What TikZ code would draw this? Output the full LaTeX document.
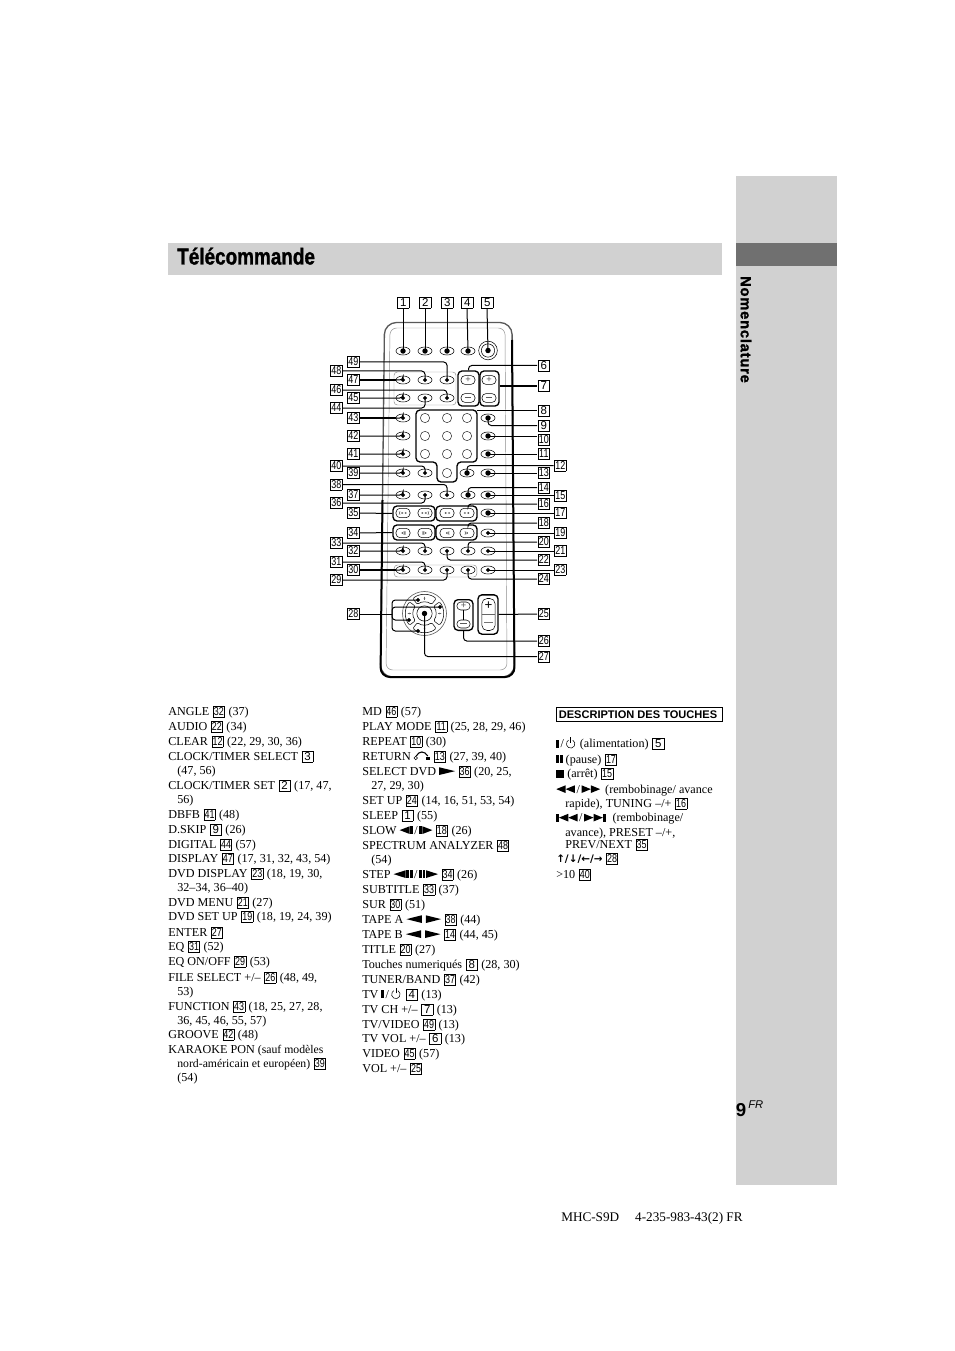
\documentclass[tikz,border=0pt]{standalone}
\usepackage{graphicx}
\usepackage{fontspec}
\setmainfont{Liberation Serif}
\setsansfont{Liberation Sans}
\newfontfamily\symfont{DejaVu Sans}
\newfontfamily\spacedfont[LetterSpace=5.5,BoldFeatures={FakeBold=1.6}]{Liberation Sans}
\newfontfamily\titlefont[BoldFeatures={FakeBold=1.4}]{Liberation Sans}
\usetikzlibrary{arrows.meta,shapes.geometric}

\definecolor{pagegray}{gray}{0.82}
\definecolor{bandgray}{gray}{0.44}

% numbers in a small frame
\newcommand\nb[1]{\hspace{.5pt}\raisebox{-1.4pt}{\fboxsep=0pt\fboxrule=.35pt\framebox[8.8pt]{\rule{0pt}{8pt}\raisebox{1.1pt}{\sffamily\fontsize{8.6}{9}\selectfont\ifnum#1>9 \scalebox{.78}[1]{#1}\else #1\fi}}}\hspace{.5pt}}
\newcommand\ind{\hspace*{6.8pt}}
% small key symbols
\newcommand\triL[1][7]{\tikz[x=1pt,y=1pt,baseline=0pt]\fill (0,2.9) -- (#1,5.8) -- (#1,0) -- cycle ;}
\newcommand\triR[1][7]{\tikz[x=1pt,y=1pt,baseline=0pt]\fill (#1,2.9) -- (0,5.8) -- (0,0) -- cycle ;}
\newcommand\barI{\tikz[x=1pt,y=1pt,baseline=0pt]\fill (0,0) rectangle (2,5.8) ;}
\newcommand\sep{\hspace{1.2pt}/\hspace{1.2pt}}
\newcommand\pwr{\tikz[x=1pt,y=1pt,baseline=0pt]{\draw[line width=.4pt] (5,5.5) arc [start angle=60,end angle=-240,radius=3.2] ; \draw[line width=.4pt] (3.4,3.4) -- (3.4,7.6) ;}}
\newcommand\stopsym{\tikz[x=1pt,y=1pt,baseline=0pt]\fill (0,0) rectangle (6,5.8) ;}
\newcommand\retsym{\tikz[x=1pt,y=1pt,baseline=0pt]{\draw[line width=.4pt] (1.5,1.5) circle (1.3) ; \draw[line width=.8pt] (1.8,3) .. controls (4,7) and (8,7) .. (10.5,3) ; \fill (8.8,2.6) rectangle (12.4,.2) ;}}
\newcommand\arrsym[1]{{\symfont\bfseries\fontsize{7.8}{8}\selectfont #1}}
\newcommand\minussym{\rule[1.7pt]{5pt}{.45pt}}

\tikzset{
  txt/.style={inner sep=0pt,anchor=base west,font=\fontsize{9.1}{11}\selectfont},
  numbox/.style={inner sep=0pt},
  btn/.style={draw,ellipse,line width=.4pt,inner sep=0pt,minimum width=10.5pt,minimum height=6pt},
  keybtn/.style={draw,rounded corners=3pt,line width=.4pt,inner sep=0pt,minimum width=10.5pt,minimum height=6.6pt,text=black!65,font=\sffamily\fontsize{7}{7}\selectfont},
  pad/.style={draw=black!80,circle,line width=.4pt,inner sep=0pt,minimum size=7pt},
  grp/.style={draw,rounded corners=3pt,line width=1pt,inner sep=0pt},
  frm/.style={draw=black!45,rounded corners=2.5pt,line width=.35pt,inner sep=0pt},
  conn/.style={line width=.75pt,-{Circle[length=2.8pt]},shorten >=-1.4pt,rounded corners=2.5pt},
  bigconn/.style={line width=.75pt,-{Circle[length=4pt]},shorten >=-2pt,rounded corners=2.5pt},
  lead/.style={line width=.75pt,rounded corners=2.5pt},
}

\begin{document}
\begin{tikzpicture}[x=0.75pt,y=-0.75pt]
  \useasboundingbox (0,0) rectangle (954,1351) ;

  % page furniture
  \fill[pagegray] (736,176) rectangle (837,1185) ;
  \fill[bandgray] (736,243) rectangle (837,266) ;
  \fill[pagegray] (168,243) rectangle (722,275) ;
  \node[inner sep=0pt,anchor=base west] (title) at (177,264.5)
    {\scalebox{.82}[1]{\titlefont\bfseries\fontsize{17.3}{20}\selectfont Télécommande}} ;
  \node[inner sep=0pt,rotate=-90] (side) at (746,329.5)
    {\spacedfont\bfseries\fontsize{11}{12}\selectfont Nomenclature} ;
  \node[inner sep=0pt,anchor=base west] (pageno) at (735.5,1116)
    {\sffamily\bfseries\fontsize{14}{15}\selectfont 9} ;
  \node[inner sep=0pt,anchor=base west] (pagefr) at (748,1108)
    {\sffamily\itshape\fontsize{8.4}{9}\selectfont FR} ;
  \node[inner sep=0pt,anchor=base west] (model) at (561,1221)
    {\fontsize{9.9}{11}\selectfont MHC-S9D\hspace{12pt}4-235-983-43(2) FR} ;

  % remote body
  \draw[black!65,line width=1pt,rounded corners=9pt] (384.5,322.5) -- (512,322.5)
    -- (514.5,677) -- (380.5,677) -- cycle ;
  \draw[line width=1.5pt,rounded corners=7pt] (512,340) -- (514.5,677) -- (380.5,677) -- (382.5,500) ;
  \draw[black!45,line width=.35pt,rounded corners=5pt] (390,328) -- (505,328) -- (507,670)
    -- (386,670) -- cycle ;

  % buttons
  \foreach \i/\x/\y in {1/403/351,2/425/351,3/447/351,4/468/351,
    47/403/380,48/425/380,49/447/380,45/403/398,44/425/398,46/447/398,
    43/403/418,42/403/436,41/403/454,39/403/473,40/425/473,12/467/473,
    9/488/418,10/488/436,11/488/454,13/488/473,
    37/403/495,36/425/495,38/447/495,14/468/495,15/488/495,17/488/513,19/488/533,
    32/403/551,33/425/551,22/447/551,20/468/551,21/488/551,
    30/403/570,31/425/570,29/447/570,24/468/570,23/488/570}
    \node[btn] (b\i) at (\x,\y) {} ;
  \node[draw,circle,line width=.4pt,minimum size=14pt,inner sep=0pt] (b5) at (488,350.5) {} ;
  \node[draw,circle,line width=.4pt,minimum size=10pt,inner sep=0pt] (b5in) at (488,350.5) {} ;

  % framed groups
  \node[frm,minimum width=46.5pt,minimum height=24.75pt] (f1) at (425,388.5) {} ;
  \node[frm,minimum width=62pt,minimum height=9pt] (f2) at (435.5,571) {} ;
  \node[grp,minimum width=15.75pt,minimum height=26.25pt] (g6) at (468.5,388.5) {} ;
  \node[grp,minimum width=14.25pt,minimum height=26.25pt] (g7) at (489.5,388.5) {} ;
  \node[grp,minimum width=31.5pt,minimum height=11.25pt] (g35) at (414,513.5) {} ;
  \node[grp,minimum width=30.75pt,minimum height=11.25pt] (g16) at (456.5,513.5) {} ;
  \node[grp,minimum width=31.5pt,minimum height=11.25pt] (g34) at (414,532.5) {} ;
  \node[grp,minimum width=30.75pt,minimum height=11.25pt] (g18) at (456.5,532.5) {} ;
  \foreach \i/\x/\y/\lab in {p6/468/380/+,m6/468/398/\minussym,p7/489/380/+,m7/489/398/\minussym}
    \node[keybtn] (\i) at (\x,\y) {\lab} ;

  % transport keys
  \foreach \i/\x/\y/\lab in {t1/403/513/{\barI\triL\triL},t2/425/513/{\triR\triR\barI},
    t3/447/513/{\triL\triL},t4/467/513/{\triR\triR},
    s1/403/533/{\triL\barI\barI},s2/425/533/{\barI\barI\triR},
    s3/447/533/{\triL\barI},s4/467/533/{\barI\triR}}
    \node[keybtn,minimum height=7pt] (\i) at (\x,\y) {\scalebox{.36}{\lab}} ;

  % number pad
  \draw[line width=1pt,rounded corners=3pt] (416,410) -- (477,410) -- (477,462) -- (457,462)
    -- (457,482) -- (437,482) -- (437,462) -- (416,462) -- cycle ;
  \coordinate (kpE) at (477,410.5) ;
  \foreach \i/\x/\y in {1/425/418,2/447/418,3/467/418,4/425/436,5/447/436,6/467/436,
    7/425/454,8/447/454,9/467/454,10/447/473}
    \node[pad] (k\i) at (\x,\y) {} ;

  % direction pad
  \node[draw=black!60,circle,line width=.5pt,minimum size=33pt,inner sep=0pt] (dpad) at (424.5,613.5) {} ;
  \foreach \a in {0,90,180,270} {
    \draw[shift={(424.5,613.5)},line width=.4pt,rounded corners=1pt] (\a-38:11.5)
      arc [start angle=\a-38,end angle=\a+38,radius=11.5] -- (\a+38:19)
      arc [start angle=\a+38,end angle=\a-38,radius=19] -- cycle ;
    \draw[shift={(424.5,613.5)},black!60,line width=.3pt,-{Stealth[length=1.5pt]}] (\a:13.5) -- (\a:17) ;
  }
  \node[draw,circle,line width=.4pt,minimum size=11.5pt,inner sep=0pt] (b27) at (424.5,613.5) {} ;
  \coordinate (d1) at (418,600) ;
  \coordinate (d2) at (440,607) ;
  \coordinate (d3) at (409,620) ;
  \coordinate (d4) at (418,631) ;
  \coordinate (d28) at (392,614) ;

  % file select and volume
  \node[grp,minimum width=14.25pt,minimum height=23pt] (g26) at (463.5,615) {} ;
  \node[keybtn,minimum width=10pt,minimum height=6pt] (fp) at (463.5,606) {+} ;
  \node[keybtn,minimum width=10pt,minimum height=6pt] (fm) at (463.5,624) {\minussym} ;
  \draw[line width=.4pt] (fp) -- (fm) ;
  \node[grp,minimum width=15pt,minimum height=29.5pt] (g25) at (488,614.5) {} ;
  \node[draw,rounded corners=4pt,line width=.4pt,minimum width=10pt,minimum height=24pt,inner sep=0pt] (vol) at (488.5,614.5) {} ;
  \node[inner sep=0pt,font=\sffamily\fontsize{10}{10}\selectfont] (vp) at (488.5,606) {+} ;
  \node[inner sep=0pt,text=black!55] (vm) at (488.5,622) {\rule{6.5pt}{.5pt}} ;
  \draw[black!60,line width=.4pt] (vol.west) -- (vol.east) ;

  % number labels
  \foreach \n/\x in {1/403,2/425,3/447,4/467,5/487}
    \node[numbox] (n\n) at (\x,302.5) {\nb{\n}} ;
  \foreach \n/\y in {49/362,47/380,45/398,43/418,42/436,41/454,39/473,37/495,35/513,34/533,32/551,30/570,28/614}
    \node[numbox] (n\n) at (353,\y) {\nb{\n}} ;
  \foreach \n/\y in {48/371,46/390,44/408,40/466,38/484.5,36/503,33/543,31/562,29/580}
    \node[numbox] (n\n) at (336,\y) {\nb{\n}} ;
  \foreach \n/\y in {6/365.5,7/386,8/410.5,9/425.5,10/440,11/454,13/473,14/487.5,16/504,18/523,20/542,22/560,24/579,25/614,26/641,27/656.5}
    \node[numbox] (n\n) at (543.5,\y) {\nb{\n}} ;
  \foreach \n/\y in {12/465.5,15/496,17/513,19/533,21/551,23/569.5}
    \node[numbox] (n\n) at (560,\y) {\nb{\n}} ;

  % connectors
  \foreach \n in {1,2,3,4,5}
    \draw[bigconn] (n\n.south) -- (b\n.center) ;
  \foreach \n in {49,48,47,46,45,44,43,42,41,40,39,38,37,36,33,32,31,30,29}
    \draw[conn] (n\n.east) -| (b\n.center) ;
  \foreach \n in {47,43,30}
    \draw[line width=1.2pt] (n\n.east) -- (b\n.west) ;
  \foreach \n in {22,24,20}
    \draw[conn] (n\n.west) -| (b\n.center) ;
  \foreach \n in {9,12,14}
    \draw[bigconn] (n\n.west) -| (b\n.center) ;
  \draw[bigconn] (n27.west) -| (b27.center) ;
  \foreach \n in {19,21,23}
    \draw[conn] (n\n.west |- b\n) -- (b\n.center) ;
  \foreach \n in {10,11,13,15,17}
    \draw[bigconn] (n\n.west |- b\n) -- (b\n.center) ;
  \draw[lead] (n6.west) -| (g6.north) ;
  \draw[lead] (g7.east |- n7) -- (n7.west) ;
  \draw[lead] (kpE) -- (n8.west) ;
  \draw[lead] (n16.west) -| (468,506) ;
  \draw[lead] (n18.west) -| (468,525) ;
  \draw[lead] (n35.east) -- (g35.west) ;
  \draw[lead] (n34.east) -- (g34.west) ;
  \draw[lead] (n25.west) -- (g25.east) ;
  \draw[lead] (n26.west) -| (g26.south) ;
  \draw[lead] (n28.east) -- (d28) ;
  \foreach \d in {d1,d2,d3,d4}
    \draw[conn] (d28) |- (\d) ;

  % index, first column
  \foreach \y/\txt [count=\i] in {711/{ANGLE \nb{32} (37)},726/{AUDIO \nb{22} (34)},
    741/{CLEAR \nb{12} (22, 29, 30, 36)},756/{CLOCK/TIMER SELECT \nb{3}},770/{\ind(47, 56)},
    785/{CLOCK/TIMER SET \nb{2} (17, 47,},799/{\ind 56)},814/{DBFB \nb{41} (48)},
    829/{D.SKIP \nb{9} (26)},844/{DIGITAL \nb{44} (57)},858/{DISPLAY \nb{47} (17, 31, 32, 43, 54)},
    873/{DVD DISPLAY \nb{23} (18, 19, 30,},887/{\ind 32--34, 36--40)},902/{DVD MENU \nb{21} (27)},
    916/{DVD SET UP \nb{19} (18, 19, 24, 39)},932/{ENTER \nb{27}},946/{EQ \nb{31} (52)},
    961/{EQ ON/OFF \nb{29} (53)},977/{FILE SELECT +/-- \nb{26} (48, 49,},991/{\ind 53)},
    1006/{FUNCTION \nb{43} (18, 25, 27, 28,},1020/{\ind 36, 45, 46, 55, 57)},1034/{GROOVE \nb{42} (48)},
    1049/{KARAOKE PON {\fontsize{8.8}{10}\selectfont (sauf modèles}},
    1063/{\ind{\fontsize{8.8}{10}\selectfont nord-américain et européen)} \nb{39}},1077/{\ind(54)}}
    \node[txt] (ca\i) at (168,\y+4) {\txt} ;

  % index, second column
  \foreach \y/\txt [count=\i] in {711/{MD \nb{46} (57)},726/{PLAY MODE \nb{11} (25, 28, 29, 46)},
    741/{REPEAT \nb{10} (30)},756/{RETURN \retsym{} \nb{13} (27, 39, 40)},
    771/{SELECT DVD \triR[12]{} \nb{36} (20, 25,},785/{\ind 27, 29, 30)},
    800/{SET UP \nb{24} (14, 16, 51, 53, 54)},815/{SLEEP \nb{1} (55)},
    830/{SLOW \triL[7.5]\hspace{.3pt}\barI\sep\barI\hspace{.3pt}\triR[7.5]{} \nb{18} (26)},845/{SPECTRUM ANALYZER \nb{48}},859/{\ind(54)},
    874/{STEP \triL[9]\hspace{.6pt}\barI\hspace{.6pt}\barI\sep\barI\hspace{.6pt}\barI\hspace{.6pt}\triR[9]{} \nb{34} (26)},889/{SUBTITLE \nb{33} (37)},
    904/{SUR \nb{30} (51)},919/{TAPE A \triL[11.5]\hspace{3pt}\triR[11.5]{} \nb{38} (44)},
    934/{TAPE B \triL[11.5]\hspace{3pt}\triR[11.5]{} \nb{14} (44, 45)},949/{TITLE \nb{20} (27)},
    964/{Touches numeriqués \nb{8} (28, 30)},979/{TUNER/BAND \nb{37} (42)},
    994/{TV \barI\sep\pwr{} \hspace{1pt}\nb{4} (13)},1009/{TV CH +/-- \nb{7} (13)},1024/{TV/VIDEO \nb{49} (13)},
    1038/{TV VOL +/-- \nb{6} (13)},1053/{VIDEO \nb{45} (57)},1068/{VOL +/-- \nb{25}}}
    \node[txt] (cb\i) at (362,\y+4) {\txt} ;

  % description of keys
  \node[draw,line width=.8pt,inner sep=0pt,minimum width=125pt,minimum height=11pt] (descbox) at (639.5,714.5) {} ;
  \node[inner sep=0pt,anchor=west,font=\sffamily\bfseries\fontsize{8.3}{9}\selectfont] (desc) at (558.5,714.5) {DESCRIPTION DES TOUCHES} ;
  \foreach \y/\txt [count=\i] in {743.5/{\barI\sep\pwr{} \hspace{.8pt}(alimentation) \nb{5}},759/{\barI\hspace{.8pt}\barI{} (pause) \nb{17}},
    773.5/{\stopsym{} (arrêt) \nb{15}},789/{\triL\triL\sep\triR\triR{} \hspace{1.5pt}(rembobinage/ avance},
    803/{\ind rapide), TUNING --/+ \nb{16}},817.5/{\barI\triL\triL\sep\triR\triR\barI{} \hspace{3pt}(rembobinage/},
    832/{\ind avance), PRESET --/+,},844.5/{\ind PREV/NEXT \nb{35}},
    858.5/{\arrsym{↑/↓/←/→} \nb{28}},874/{>10 \nb{40}}}
    \node[txt] (cc\i) at (556,\y+4) {\txt} ;
\end{tikzpicture}
\end{document}
